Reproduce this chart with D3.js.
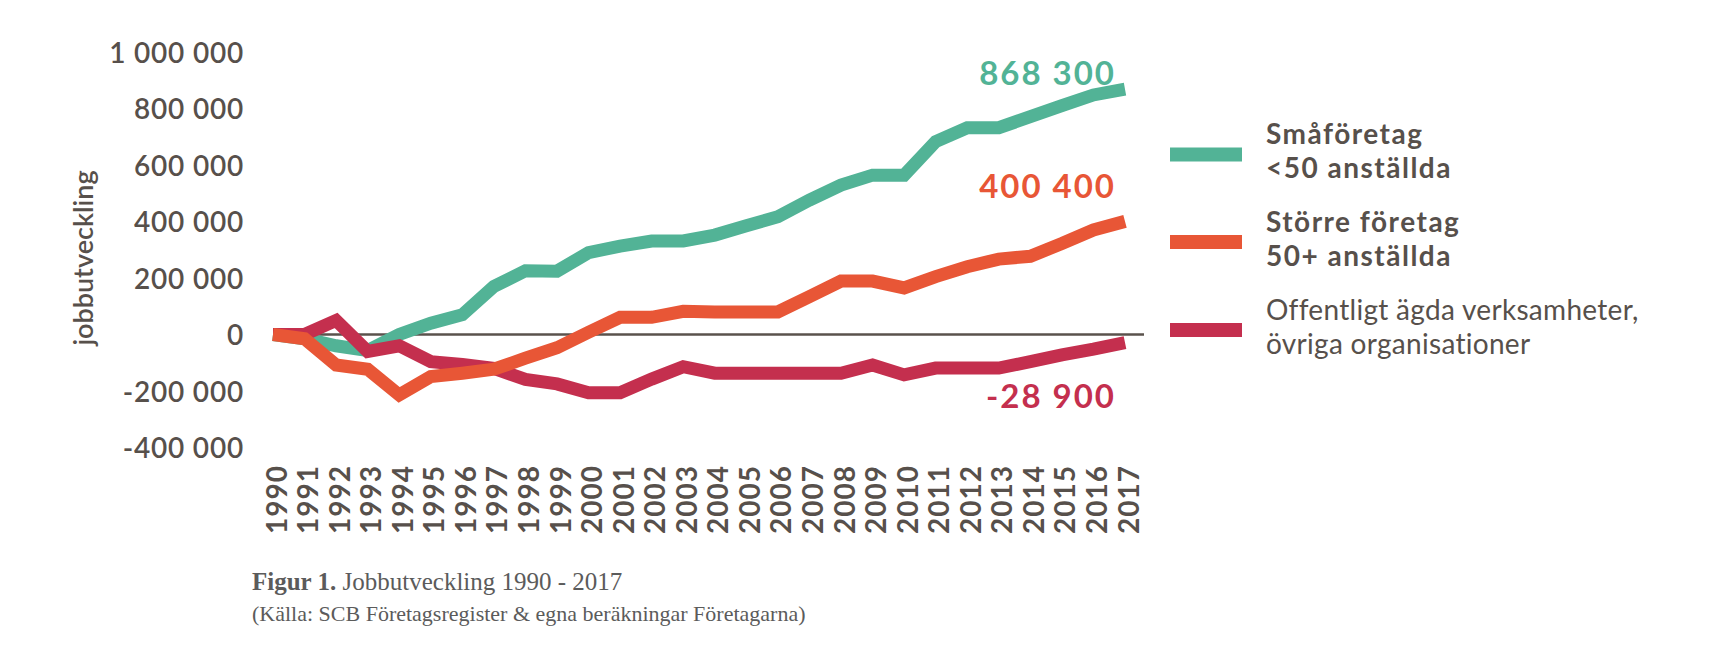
<!DOCTYPE html>
<html>
<head>
<meta charset="utf-8">
<script src="https://cdn.jsdelivr.net/npm/d3@7"></script>
<style>
  html, body { margin: 0; padding: 0; background: #ffffff; }
  svg { display: block; }
</style>
</head>
<body>
<svg id="chart" width="1711" height="655"></svg>
<script>
// ---- data ----
const years = [1990,1991,1992,1993,1994,1995,1996,1997,1998,1999,2000,2001,2002,2003,2004,2005,2006,2007,2008,2009,2010,2011,2012,2013,2014,2015,2016,2017];
const smaforetag = [0,-15000,-40000,-57000,0,40000,70000,170000,226000,224000,290000,313000,331000,331000,352000,385000,417000,476000,529000,564000,564000,683000,732000,732000,771000,810000,848000,868300];
const storreForetag = [0,-15000,-108000,-123000,-214000,-149000,-137000,-123000,-84000,-47000,8000,61000,61000,82000,80000,80000,80000,134000,189000,189000,165000,205000,240000,267000,277000,322000,370000,400400];
const offentligt = [0,0,50000,-60000,-40000,-96000,-106000,-120000,-159000,-175000,-206000,-206000,-158000,-114000,-137000,-137000,-137000,-137000,-137000,-108000,-143000,-119000,-119000,-119000,-96000,-72000,-52000,-28900];
const yTicks = [-400000,-200000,0,200000,400000,600000,800000,1000000];
const legendLines = [["Småföretag","<50 anställda"],["Större företag","50+ anställda"],["Offentligt ägda verksamheter,","övriga organisationer"]];
const endLabels = ["868 300","400 400","-28 900"];
const yTitle = "jobbutveckling";
const captionBold = "Figur 1.";
const captionRest = " Jobbutveckling 1990 - 2017";
const captionSource = "(Källa: SCB Företagsregister & egna beräkningar Företagarna)";

// ---- styles ----
const colors = ["#52b396", "#e85636", "#c42f4e"];
const textColor = "#57504b";
const sansFont = "Lato, 'Open Sans', sans-serif";
const serifFont = "'Liberation Serif', 'DejaVu Serif', serif";

const svg = d3.select("#chart");

const x = d3.scalePoint().domain(years).range([273, 1125]);
const y = d3.scaleLinear().domain([-400000, 1000000]).range([447.5, 52]);

const locale = d3.formatLocale({decimal: ",", thousands: " ", grouping: [3], currency: ["", " kr"], minus: "-"});
const fmt = locale.format(",.0f");

// y axis
const yAxis = svg.append("g")
  .attr("transform", "translate(244,0)")
  .call(d3.axisLeft(y).tickValues(yTicks).tickSize(0).tickPadding(0).tickFormat(d => fmt(d)));
yAxis.select(".domain").remove();
yAxis.selectAll("text")
  .attr("fill", textColor)
  .attr("font-family", sansFont)
  .attr("font-weight", 600)
  .attr("font-size", 28)
  .attr("letter-spacing", "0.8px")
  .attr("dy", "0.36em");

// y title
svg.append("text")
  .attr("transform", "translate(93,258) rotate(-90)")
  .attr("text-anchor", "middle")
  .attr("fill", textColor)
  .attr("font-family", sansFont)
  .attr("font-weight", 600)
  .attr("font-size", 27)
  .text(yTitle);

// x axis (year labels)
const xAxis = svg.append("g")
  .attr("transform", "translate(0,465)")
  .call(d3.axisBottom(x).tickSize(0).tickPadding(0));
xAxis.select(".domain").remove();
xAxis.selectAll("text")
  .attr("transform", "rotate(-90)")
  .attr("text-anchor", "end")
  .attr("x", 0)
  .attr("y", 3)
  .attr("dy", "0.36em")
  .attr("fill", textColor)
  .attr("font-family", sansFont)
  .attr("font-weight", 700)
  .attr("font-size", 28)
  .attr("letter-spacing", "1px");

// zero line
svg.append("line")
  .attr("x1", x(years[0]))
  .attr("x2", x(years[years.length - 1]) + 19)
  .attr("y1", y(0))
  .attr("y2", y(0))
  .attr("stroke", "#5a524c")
  .attr("stroke-width", 2.5);

// lines (draw order: green, red, orange)
const seriesData = [smaforetag, storreForetag, offentligt];
const line = d3.line().x((d, i) => x(years[i])).y(d => y(d));
[0, 2, 1].forEach(k => {
  svg.append("path")
    .datum(seriesData[k])
    .attr("d", line)
    .attr("fill", "none")
    .attr("stroke", colors[k])
    .attr("stroke-width", 13)
    .attr("stroke-linejoin", "miter")
    .attr("stroke-miterlimit", 3)
    .attr("stroke-linecap", "butt");
});

// end value labels
const endLabelY = [85, 198, 408];
endLabels.forEach((t, k) => {
  svg.append("text")
    .attr("x", 1116)
    .attr("y", endLabelY[k])
    .attr("text-anchor", "end")
    .attr("fill", colors[k])
    .attr("font-family", sansFont)
    .attr("font-weight", 700)
    .attr("font-size", 33)
    .attr("letter-spacing", "2px")
    .text(t);
});

// legend
const legendY = [154.5, 242, 330];
legendLines.forEach((lines, k) => {
  svg.append("rect")
    .attr("x", 1170)
    .attr("y", legendY[k] - 7)
    .attr("width", 72)
    .attr("height", 14)
    .attr("fill", colors[k]);
  lines.forEach((t, j) => {
    svg.append("text")
      .attr("x", 1266)
      .attr("y", legendY[k] - 10.5 + j * 34)
      .attr("fill", textColor)
      .attr("font-family", sansFont)
      .attr("font-weight", k < 2 ? 700 : 400)
      .attr("font-size", 28)
      .attr("letter-spacing", k < 2 ? "1.5px" : "0.3px")
      .text(t);
  });
});

// caption
const cap = svg.append("text")
  .attr("x", 252)
  .attr("y", 590)
  .attr("fill", "#5b5b5b")
  .attr("font-family", serifFont)
  .attr("font-size", 25);
cap.append("tspan").attr("font-weight", 700).text(captionBold);
cap.append("tspan").text(captionRest);

svg.append("text")
  .attr("x", 252)
  .attr("y", 621)
  .attr("fill", "#5b5b5b")
  .attr("font-family", serifFont)
  .attr("font-size", 22)
  .text(captionSource);
</script>
</body>
</html>
